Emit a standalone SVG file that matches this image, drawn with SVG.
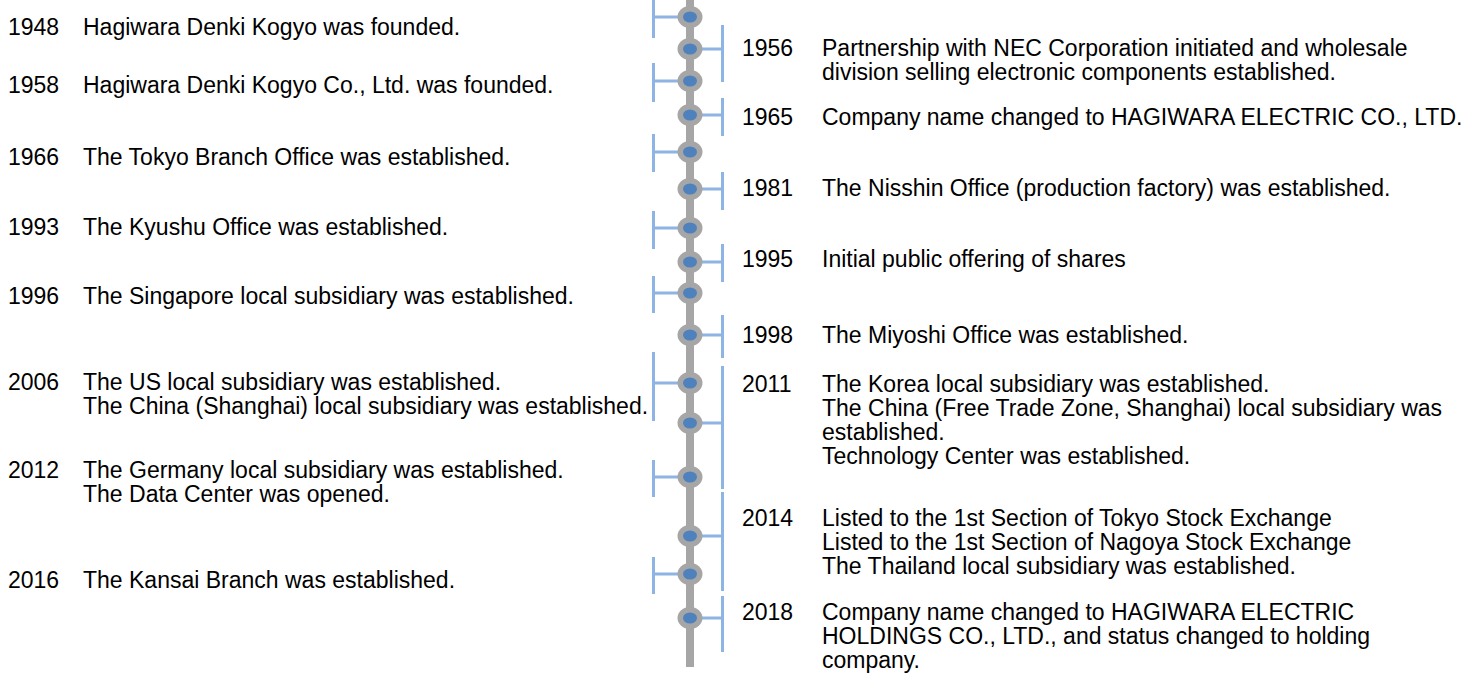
<svg xmlns="http://www.w3.org/2000/svg" width="1469" height="675" viewBox="0 0 1469 675">
<style>
  .t { font-family: "Liberation Sans", Arial, sans-serif; font-size: 23px; fill: #000; }
  .br { stroke: #8DB4E2; stroke-width: 3; fill: none; }
  .outer { fill: #A6A6A6; }
  .inner { fill: #4F81BD; }
</style>
<rect width="1469" height="675" fill="#FFFFFF"/>
<rect id="spine" x="686" y="0" width="8" height="667" fill="#A6A6A6"/>
<g id="connectors">
  <path class="br" d="M653.5,0 V38 M653.5,17 H680"/>
  <path class="br" d="M722.5,25 V82 M722.5,49 H700"/>
  <path class="br" d="M653.5,63 V102 M653.5,81 H680"/>
  <path class="br" d="M722.5,98 V136 M722.5,115 H700"/>
  <path class="br" d="M653.5,134 V172 M653.5,152 H680"/>
  <path class="br" d="M722.5,172 V210 M722.5,189 H700"/>
  <path class="br" d="M653.5,211 V249 M653.5,228 H680"/>
  <path class="br" d="M722.5,244 V282 M722.5,262 H700"/>
  <path class="br" d="M653.5,276 V313 M653.5,293 H680"/>
  <path class="br" d="M722.5,315 V358 M722.5,335 H700"/>
  <path class="br" d="M653.5,352 V421 M653.5,383 H680"/>
  <path class="br" d="M722.5,366 V489 M722.5,423 H700"/>
  <path class="br" d="M653.5,460 V497 M653.5,477 H680"/>
  <path class="br" d="M722.5,492 V591 M722.5,536 H700"/>
  <path class="br" d="M653.5,557 V594 M653.5,574 H680"/>
  <path class="br" d="M722.5,596 V652 M722.5,618 H700"/>
</g>
<g id="n1948"><ellipse class="outer" cx="690" cy="17" rx="12.5" ry="11"/><ellipse class="inner" cx="690" cy="17" rx="7" ry="5.5"/>
  <text class="t" x="8" y="35">1948</text><text class="t" x="83" y="35">Hagiwara Denki Kogyo was founded.</text></g>
<g id="n1956"><ellipse class="outer" cx="690" cy="49" rx="12.5" ry="11"/><ellipse class="inner" cx="690" cy="49" rx="7" ry="5.5"/>
  <text class="t" x="742" y="56">1956</text><text class="t" x="822" y="56">Partnership with NEC Corporation initiated and wholesale</text><text class="t" x="822" y="80">division selling electronic components established.</text></g>
<g id="n1958"><ellipse class="outer" cx="690" cy="81" rx="12.5" ry="11"/><ellipse class="inner" cx="690" cy="81" rx="7" ry="5.5"/>
  <text class="t" x="8" y="93">1958</text><text class="t" x="83" y="93">Hagiwara Denki Kogyo Co., Ltd. was founded.</text></g>
<g id="n1965"><ellipse class="outer" cx="690" cy="115" rx="12.5" ry="11"/><ellipse class="inner" cx="690" cy="115" rx="7" ry="5.5"/>
  <text class="t" x="742" y="125">1965</text><text class="t" x="822" y="125">Company name changed to HAGIWARA ELECTRIC CO., LTD.</text></g>
<g id="n1966"><ellipse class="outer" cx="690" cy="152" rx="12.5" ry="11"/><ellipse class="inner" cx="690" cy="152" rx="7" ry="5.5"/>
  <text class="t" x="8" y="165">1966</text><text class="t" x="83" y="165">The Tokyo Branch Office was established.</text></g>
<g id="n1981"><ellipse class="outer" cx="690" cy="189" rx="12.5" ry="11"/><ellipse class="inner" cx="690" cy="189" rx="7" ry="5.5"/>
  <text class="t" x="742" y="196">1981</text><text class="t" x="822" y="196">The Nisshin Office (production factory) was established.</text></g>
<g id="n1993"><ellipse class="outer" cx="690" cy="228" rx="12.5" ry="11"/><ellipse class="inner" cx="690" cy="228" rx="7" ry="5.5"/>
  <text class="t" x="8" y="235">1993</text><text class="t" x="83" y="235">The Kyushu Office was established.</text></g>
<g id="n1995"><ellipse class="outer" cx="690" cy="262" rx="12.5" ry="11"/><ellipse class="inner" cx="690" cy="262" rx="7" ry="5.5"/>
  <text class="t" x="742" y="267">1995</text><text class="t" x="822" y="267">Initial public offering of shares</text></g>
<g id="n1996"><ellipse class="outer" cx="690" cy="293" rx="12.5" ry="11"/><ellipse class="inner" cx="690" cy="293" rx="7" ry="5.5"/>
  <text class="t" x="8" y="304">1996</text><text class="t" x="83" y="304">The Singapore local subsidiary was established.</text></g>
<g id="n1998"><ellipse class="outer" cx="690" cy="335" rx="12.5" ry="11"/><ellipse class="inner" cx="690" cy="335" rx="7" ry="5.5"/>
  <text class="t" x="742" y="343">1998</text><text class="t" x="822" y="343">The Miyoshi Office was established.</text></g>
<g id="n2006"><ellipse class="outer" cx="690" cy="383" rx="12.5" ry="11"/><ellipse class="inner" cx="690" cy="383" rx="7" ry="5.5"/>
  <text class="t" x="8" y="390">2006</text><text class="t" x="83" y="390">The US local subsidiary was established.</text><text class="t" x="83" y="414">The China (Shanghai) local subsidiary was established.</text></g>
<g id="n2011"><ellipse class="outer" cx="690" cy="423" rx="12.5" ry="11"/><ellipse class="inner" cx="690" cy="423" rx="7" ry="5.5"/>
  <text class="t" x="742" y="392">2011</text><text class="t" x="822" y="392">The Korea local subsidiary was established.</text><text class="t" x="822" y="416">The China (Free Trade Zone, Shanghai) local subsidiary was</text><text class="t" x="822" y="440">established.</text><text class="t" x="822" y="464">Technology Center was established.</text></g>
<g id="n2012"><ellipse class="outer" cx="690" cy="477" rx="12.5" ry="11"/><ellipse class="inner" cx="690" cy="477" rx="7" ry="5.5"/>
  <text class="t" x="8" y="478">2012</text><text class="t" x="83" y="478">The Germany local subsidiary was established.</text><text class="t" x="83" y="502">The Data Center was opened.</text></g>
<g id="n2014"><ellipse class="outer" cx="690" cy="536" rx="12.5" ry="11"/><ellipse class="inner" cx="690" cy="536" rx="7" ry="5.5"/>
  <text class="t" x="742" y="526">2014</text><text class="t" x="822" y="526">Listed to the 1st Section of Tokyo Stock  Exchange</text><text class="t" x="822" y="550">Listed to the 1st Section of Nagoya Stock Exchange</text><text class="t" x="822" y="574">The Thailand local subsidiary was established.</text></g>
<g id="n2016"><ellipse class="outer" cx="690" cy="574" rx="12.5" ry="11"/><ellipse class="inner" cx="690" cy="574" rx="7" ry="5.5"/>
  <text class="t" x="8" y="588">2016</text><text class="t" x="83" y="588">The Kansai Branch was established.</text></g>
<g id="n2018"><ellipse class="outer" cx="690" cy="618" rx="12.5" ry="11"/><ellipse class="inner" cx="690" cy="618" rx="7" ry="5.5"/>
  <text class="t" x="742" y="620">2018</text><text class="t" x="822" y="620">Company name changed to HAGIWARA ELECTRIC</text><text class="t" x="822" y="644">HOLDINGS CO., LTD., and status changed to holding</text><text class="t" x="822" y="668">company.</text></g>
</svg>
